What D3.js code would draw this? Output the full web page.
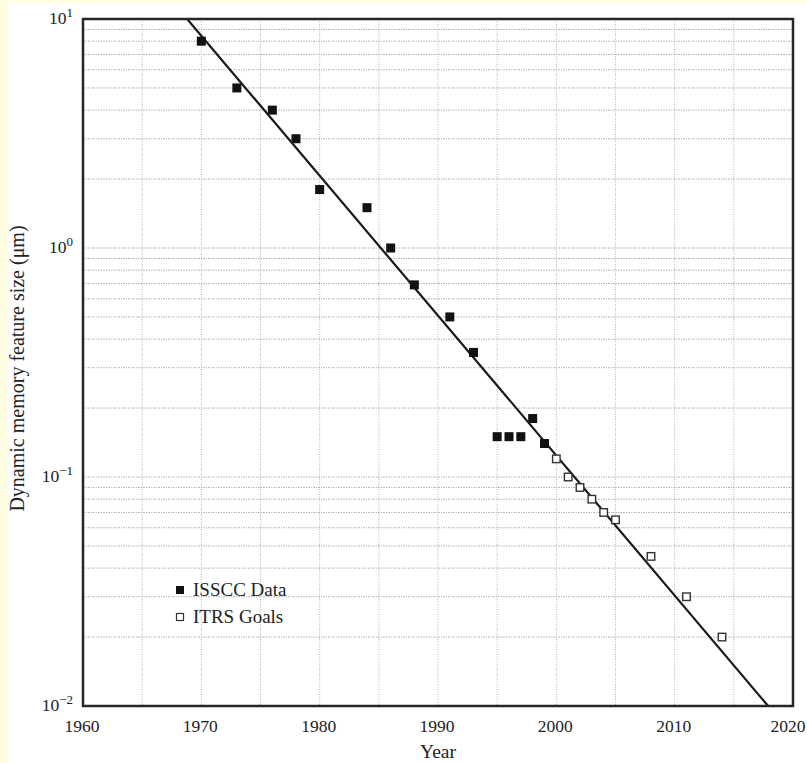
<!DOCTYPE html>
<html><head><meta charset="utf-8">
<script src="https://cdn.jsdelivr.net/npm/d3@7"></script>
<style>html,body{margin:0;padding:0;background:#fffde0;}svg{display:block;}</style>
</head><body>
<script>
const isscYears = [1970, 1973, 1976, 1978, 1980, 1984, 1986, 1988, 1991, 1993, 1995, 1996, 1997, 1998, 1999];
const isscValues = [8, 5, 4, 3, 1.8, 1.5, 1.0, 0.69, 0.5, 0.35, 0.15, 0.15, 0.15, 0.18, 0.14];
const itrsYears = [2000, 2001, 2002, 2003, 2004, 2005, 2008, 2011, 2014];
const itrsValues = [0.12, 0.1, 0.09, 0.08, 0.07, 0.065, 0.045, 0.03, 0.02];
const trendYears = [1968.8, 2017.9];
const trendValues = [10, 0.01];
const xTicks = [1960, 1970, 1980, 1990, 2000, 2010, 2020];
const xGrid = [1965, 1970, 1975, 1980, 1985, 1990, 1995, 2000, 2005, 2010, 2015];
const yTickExps = [1, 0, -1, -2];
const legendLabels = ["ISSCC Data", "ITRS Goals"];

const W = 807, H = 763;
const m = {left: 83, right: 793, top: 19, bottom: 706};
const svg = d3.select("body").append("svg").attr("width", W).attr("height", H);
svg.append("rect").attr("width", W).attr("height", H).attr("fill", "#fffde0");
svg.append("rect").attr("x", 8).attr("y", 3).attr("width", W - 8).attr("height", H - 3).attr("fill", "#fff");

const x = d3.scaleLinear().domain([1960, 2020]).range([m.left, m.right]);
const y = d3.scaleLog().domain([0.01, 10]).range([m.bottom, m.top]);
const font = "'Liberation Serif', 'Times New Roman', serif";

// horizontal grid (major + minor)
const hVals = [];
for (let e = -2; e <= 0; e++) for (let k = 1; k <= 9; k++) hVals.push(k * Math.pow(10, e));
const g = svg.append("g");
g.selectAll("line.h").data(hVals.filter(v => v > 0.01)).join("line")
  .attr("x1", m.left).attr("x2", m.right)
  .attr("y1", d => y(d)).attr("y2", d => y(d))
  .attr("stroke", "#b4b4b4").attr("stroke-width", 1).attr("stroke-dasharray", "2,1,1,1");
g.selectAll("line.v").data(xGrid).join("line")
  .attr("x1", d => x(d)).attr("x2", d => x(d))
  .attr("y1", m.top).attr("y2", m.bottom)
  .attr("stroke", "#b4b4b4").attr("stroke-width", 1).attr("stroke-dasharray", "1,1.5");

// clip for trend line
svg.append("clipPath").attr("id", "clip").append("rect")
  .attr("x", m.left).attr("y", m.top).attr("width", m.right - m.left).attr("height", m.bottom - m.top);

const trend = trendYears.map((t, i) => [t, trendValues[i]]);
svg.append("path").datum(trend)
  .attr("d", d3.line().x(d => x(d[0])).y(d => y(d[1])))
  .attr("clip-path", "url(#clip)")
  .attr("stroke", "#1a1a1a").attr("stroke-width", 2.2).attr("fill", "none");

// frame
svg.append("rect").attr("x", m.left).attr("y", m.top)
  .attr("width", m.right - m.left).attr("height", m.bottom - m.top)
  .attr("fill", "none").attr("stroke", "#262626").attr("stroke-width", 2.5);

// markers
const s1 = 9;
svg.selectAll("rect.issc").data(isscYears.map((t, i) => [t, isscValues[i]])).join("rect")
  .attr("x", d => x(d[0]) - s1 / 2).attr("y", d => y(d[1]) - s1 / 2)
  .attr("width", s1).attr("height", s1).attr("fill", "#111");
const s2 = 7.5;
svg.selectAll("rect.itrs").data(itrsYears.map((t, i) => [t, itrsValues[i]])).join("rect")
  .attr("x", d => x(d[0]) - s2 / 2).attr("y", d => y(d[1]) - s2 / 2)
  .attr("width", s2).attr("height", s2).attr("fill", "#fff")
  .attr("stroke", "#333").attr("stroke-width", 1.4);

// x tick labels
svg.selectAll("text.xt").data(xTicks).join("text")
  .attr("x", d => Math.min(x(d) - 1, 788)).attr("y", 732)
  .attr("text-anchor", "middle").attr("font-family", font).attr("font-size", 17.5)
  .attr("fill", "#222").text(d => d);

// y tick labels
const yt = svg.selectAll("text.yt").data(yTickExps).join("text")
  .attr("x", 73).attr("y", d => y(Math.pow(10, d)) + 5)
  .attr("text-anchor", "end").attr("font-family", font).attr("font-size", 17.5).attr("fill", "#222");
yt.append("tspan").text("10");
yt.append("tspan").attr("dy", -7).attr("font-size", 13).text(d => d < 0 ? "\u2212" + Math.abs(d) : d);

// axis titles
svg.append("text").attr("x", (m.left + m.right) / 2).attr("y", 758)
  .attr("text-anchor", "middle").attr("font-family", font).attr("font-size", 19.5).attr("fill", "#222").text("Year");
svg.append("text").attr("transform", `translate(24,${(m.top + m.bottom) / 2 + 6}) rotate(-90)`)
  .attr("text-anchor", "middle").attr("font-family", font).attr("font-size", 20).attr("fill", "#222")
  .text("Dynamic memory feature size (\u03bcm)");

// legend
const leg = svg.append("g");
leg.append("rect").attr("x", 176).attr("y", 586).attr("width", 8).attr("height", 8).attr("fill", "#111");
leg.append("rect").attr("x", 176.5).attr("y", 613.5).attr("width", 7).attr("height", 7).attr("fill", "#fff").attr("stroke", "#333").attr("stroke-width", 1.2);
leg.selectAll("text").data(legendLabels).join("text")
  .attr("x", 193).attr("y", (d, i) => 596 + i * 27)
  .attr("font-family", font).attr("font-size", 19).attr("fill", "#222").text(d => d);
</script>
</body></html>
